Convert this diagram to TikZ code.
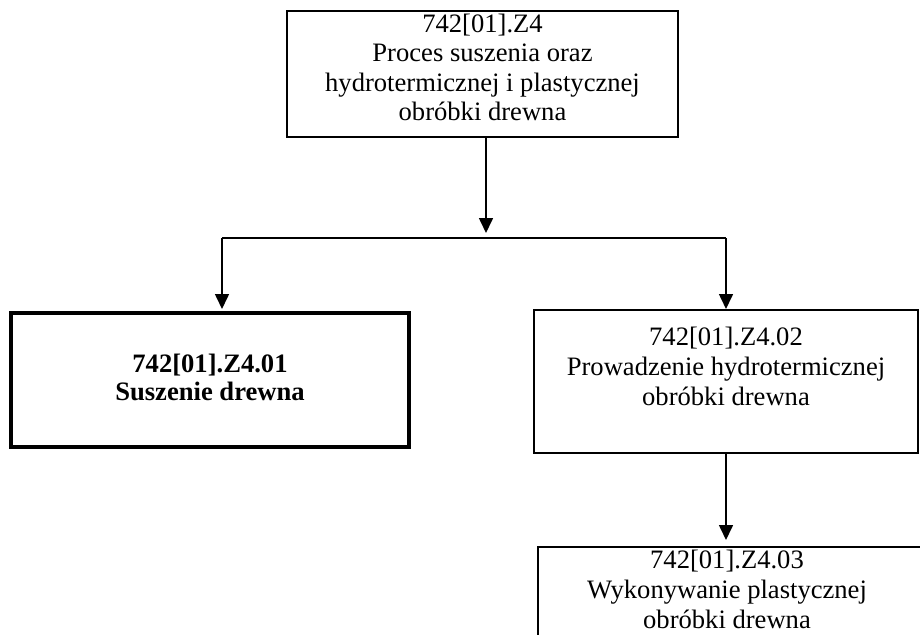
\documentclass[tikz,border=0pt]{standalone}
\usepackage{fontspec}
\setmainfont{Liberation Serif}
\usetikzlibrary{arrows.meta}
\begin{document}
\begin{tikzpicture}[x=1pt,y=-1pt,
  box/.style={draw, line width=1.6pt, inner sep=0pt},
  thickbox/.style={draw, line width=3.6pt, inner sep=0pt},
  txt/.style={anchor=base, inner sep=0pt, font=\fontsize{26.6}{30}\selectfont},
  btxt/.style={anchor=base, inner sep=0pt, font=\fontsize{26.6}{30}\selectfont\bfseries},
  conn/.style={line width=1.6pt},
  arr/.style={conn, -{Triangle[width=14pt,length=15pt]}}]
\useasboundingbox (0,0) rectangle (920,634);
\clip (0,0) rectangle (920,634);
% boxes
\node[box, minimum width=391pt, minimum height=126pt] (top) at (482.5,74) {};
\node[thickbox, minimum width=398pt, minimum height=134pt] (left) at (210,380) {};
\node[box, minimum width=384pt, minimum height=143pt] (right) at (726,381.5) {};
\node[box, minimum width=400pt, minimum height=120pt] (bottom) at (738,607) {};
% texts
\node[txt] (t1) at (482.5,33) {742[01].Z4};
\node[txt] (t2) at (482.5,62) {Proces suszenia oraz};
\node[txt] (t3) at (482.5,91) {hydrotermicznej i plastycznej};
\node[txt] (t4) at (482.5,120) {obróbki drewna};
\node[btxt] (l1) at (210,372) {742[01].Z4.01};
\node[btxt] (l2) at (210,400) {Suszenie drewna};
\node[txt] (r1) at (726,345) {742[01].Z4.02};
\node[txt] (r2) at (726,375) {Prowadzenie hydrotermicznej};
\node[txt] (r3) at (726,405) {obróbki drewna};
\node[txt] (b1) at (727,568) {742[01].Z4.03};
\node[txt] (b2) at (727,598) {Wykonywanie plastycznej};
\node[txt] (b3) at (727,628) {obróbki drewna};
% connectors
\coordinate (jl) at (222,238);
\coordinate (jr) at (726,238);
\draw[arr] (486,137 |- top.south) -- (486,233);
\draw[conn] (jl) -- (jr);
\draw[arr] (jl) -- (222,309);
\draw[arr] (jr) -- (726,309);
\draw[arr] (right.south) -- (726,540);
\end{tikzpicture}
\end{document}
